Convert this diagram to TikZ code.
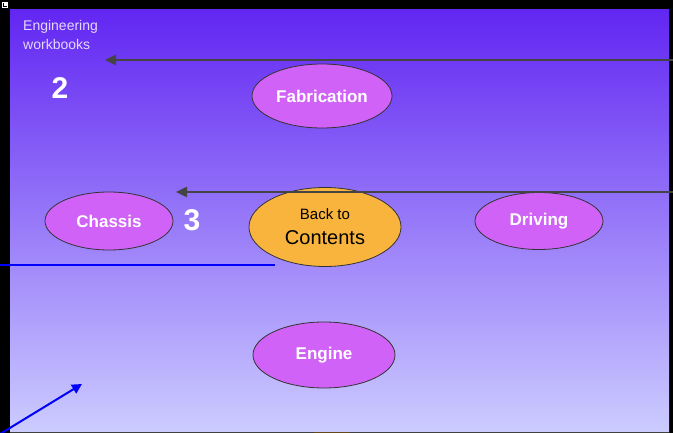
\documentclass[tikz,border=0pt]{standalone}
\usepackage{fontspec}
\setmainfont{Liberation Sans}
\usetikzlibrary{shapes.geometric,arrows.meta}
\definecolor{topc}{HTML}{6226F2}
\definecolor{botc}{HTML}{CCCCFF}
\definecolor{ovalc}{HTML}{D062F8}
\definecolor{orangec}{HTML}{F9B43E}
\definecolor{grayarr}{HTML}{444444}
\definecolor{labc}{HTML}{E4D8FF}
\tikzset{
  oval/.style={ellipse, draw=black!80, line width=0.8pt, fill=ovalc, inner sep=0pt,
    font=\bfseries\fontsize{17}{20}\selectfont, text=white},
  bignum/.style={font=\bfseries\fontsize{30}{32}\selectfont, text=white},
  grayarrow/.style={draw=grayarr, line width=2.4pt, -{Triangle[length=11pt,width=10pt]}},
  blueline/.style={draw=blue, line width=2pt},
}
\begin{document}
\begin{tikzpicture}[x=1pt,y=-1pt]
\useasboundingbox (0,0) rectangle (673,433);
\fill[black] (0,0) rectangle (673,433);
\shade[top color=topc, bottom color=botc] (10,10) rectangle (669,432);
\fill[white] (2,2) rectangle (8,8);
\fill[black] (3,3) rectangle (7,7);
\fill[white] (3.5,3.5) rectangle (6.5,6.5);
\fill[black!75] (10,431.5) rectangle (669,433);
\fill[orangec!40!black] (314,431.5) rectangle (350,433);
% labels
\node[anchor=north west, align=left, text=labc, font=\fontsize{14}{19}\selectfont, inner sep=0pt] (title) at (23,20) {Engineering\\workbooks};
\node[bignum] (two) at (60,88) {2};
\node[bignum] (three) at (192,220) {3};
% ovals
\node[oval, minimum width=140pt, minimum height=64pt] (fab) at (322,96) {Fabrication};
\node[oval, minimum width=128pt, minimum height=58pt] (chassis) at (109,221) {Chassis};
\node[oval, minimum width=128pt, minimum height=57pt] (driving) at (539,221) {Driving};
\node[oval, minimum width=142pt, minimum height=66pt] (engine) at (324,355) {Engine};
\node[ellipse, draw=black!80, line width=0.8pt, fill=orangec, inner sep=0pt, minimum width=152pt, minimum height=79pt, align=center, text=black, font=\fontsize{20}{25}\selectfont] (back) at (325,227)
  {{\fontsize{15}{18}\selectfont Back to}\\Contents};
% connectors
\coordinate (g1s) at (673,60);
\coordinate (g1e) at (105,60);
\coordinate (g2s) at (673,192);
\coordinate (g2e) at (176,192);
\coordinate (b1s) at (0,265);
\coordinate (b1e) at (275,265);
\coordinate (b2s) at (0,434);
\coordinate (b2e) at (82,384);
\draw[grayarrow] (g1s) -- (g1e);
\draw[grayarrow] (g2s) -- (g2e);
\draw[blueline] (b1s) -- (b1e);
\draw[blueline, -{Triangle[length=10pt,width=10pt]}] (b2s) -- (b2e);
\end{tikzpicture}
\end{document}
